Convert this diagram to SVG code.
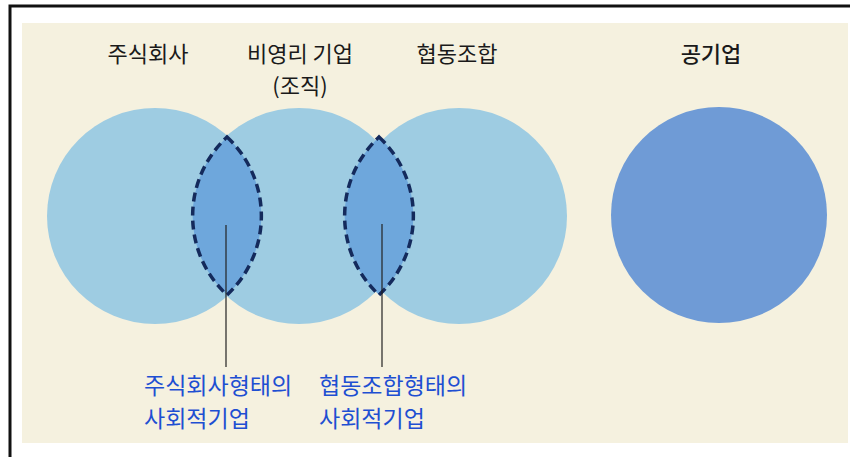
<svg xmlns="http://www.w3.org/2000/svg" width="850" height="457" viewBox="0 0 850 457">
<defs>
<style>
.lbl{font-family:"Noto Sans CJK KR","Noto Sans",sans-serif;font-size:22px;fill:#1a1a1a;text-anchor:middle}
.blue{font-family:"Noto Sans CJK KR","Noto Sans",sans-serif;font-size:23px;fill:#1e4fd2}
.circ{fill:#9ecce2}
.lens{fill:#6ea7dc;stroke:#142a5c;stroke-width:3.5;stroke-dasharray:9 5}
.lead{stroke:#222;stroke-width:1.2;fill:none}
</style>
</defs>
<rect x="0" y="0" width="850" height="457" fill="#ffffff"/>
<rect x="22" y="23" width="826" height="420" fill="#f5f1df"/>
<path d="M10 457 V6 H850" fill="none" stroke="#111" stroke-width="3"/>
<g id="circle-corp"><circle class="circ" cx="155" cy="216" r="108"/></g>
<g id="circle-nonprofit"><circle class="circ" cx="299" cy="216" r="108"/></g>
<g id="circle-coop"><circle class="circ" cx="459" cy="216" r="108"/></g>
<g id="circle-public"><circle cx="719" cy="215" r="108" fill="#6f9bd6"/></g>
<g id="lens-corp"><path class="lens" d="M227 137 A108 108 0 0 1 227 295 A108 108 0 0 1 227 137 Z"/></g>
<g id="lens-coop"><path class="lens" d="M379 137 A108 108 0 0 1 379 295 A108 108 0 0 1 379 137 Z"/></g>
<g id="connectors">
<line class="lead" x1="226" y1="225" x2="226" y2="367"/>
<line class="lead" x1="382" y1="224" x2="382" y2="367"/>
</g>
<g id="labels">
<text class="lbl" x="148" y="62">주식회사</text>
<text class="lbl" x="300" y="62">비영리 기업</text>
<text class="lbl" x="300" y="94">(조직)</text>
<text class="lbl" x="457" y="62">협동조합</text>
<text class="lbl" x="711" y="62" font-weight="500">공기업</text>
</g>
<g id="label-corp-se">
<text class="blue" x="144" y="394">주식회사형태의</text>
<text class="blue" x="144" y="427">사회적기업</text>
</g>
<g id="label-coop-se">
<text class="blue" x="319" y="394">협동조합형태의</text>
<text class="blue" x="319" y="427">사회적기업</text>
</g>
</svg>
